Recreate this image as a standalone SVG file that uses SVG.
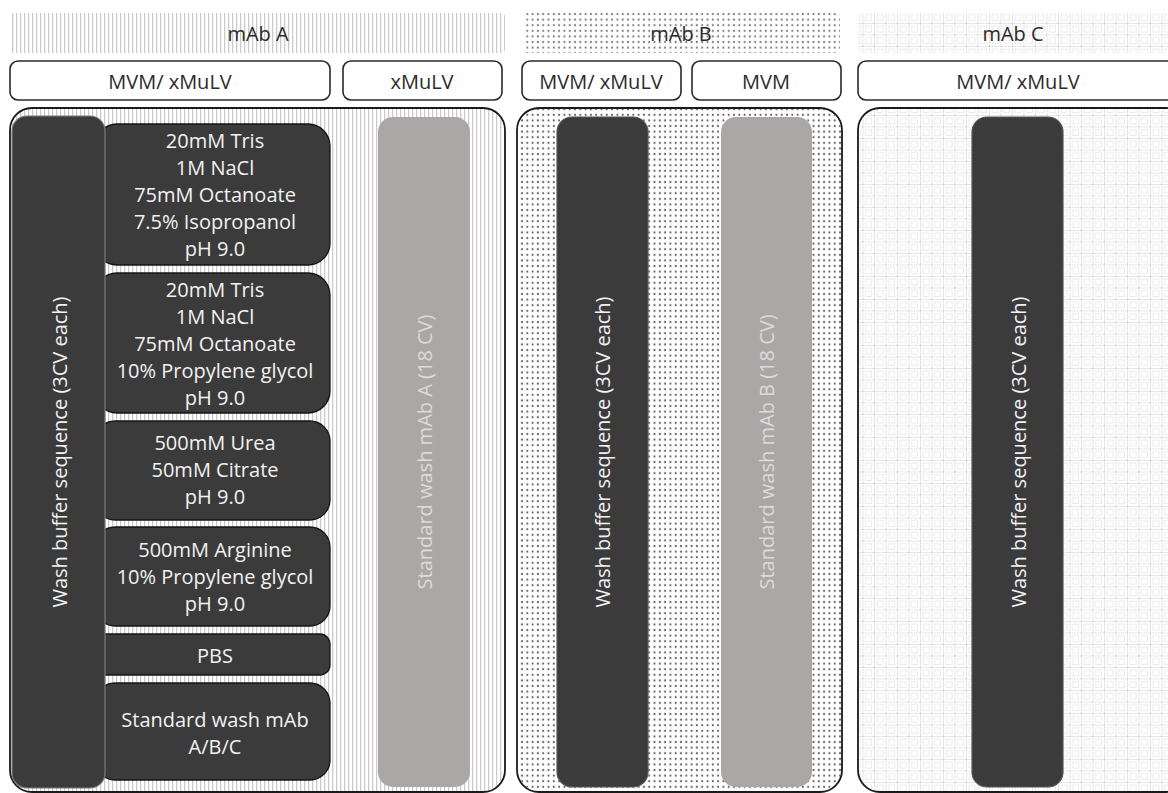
<svg xmlns="http://www.w3.org/2000/svg" width="1168" height="793" viewBox="0 0 1168 793">
<defs>
<pattern id="stripes" width="4" height="4" patternUnits="userSpaceOnUse">
<rect x="0" y="0" width="1.3" height="4" fill="#cbcbcb"/>
</pattern>
<pattern id="dots" width="5.3" height="5.6" patternUnits="userSpaceOnUse">
<circle cx="2.6" cy="2.8" r="1.1" fill="#5a5a5a"/>
</pattern>
<pattern id="grid" width="11.5" height="11.5" patternUnits="userSpaceOnUse">
<path d="M0.5 0 V11.5 M0 0.5 H11.5" stroke="#d6d6d6" stroke-width="1" stroke-dasharray="1.5 1" fill="none"/>
<rect x="3" y="3" width="6" height="6" fill="none" stroke="#e6e6e6" stroke-width="0.8"/>
</pattern>
<clipPath id="page"><rect x="0" y="0" width="1168" height="793"/></clipPath>
</defs>
<style>
text{font-family:"Open Sans","Noto Sans","Liberation Sans",sans-serif;font-size:20px;text-anchor:middle}
.sub{fill:#ffffff;stroke:#2a2a2a;stroke-width:1.6}
.cont{stroke:#1a1a1a;stroke-width:1.8}
.dark{fill:#3b3b3b;stroke:#141414;stroke-width:1.3}
.wash{fill:#3b3b3b;stroke:#7a7a7a;stroke-width:1.2}
.grey{fill:#aca7a7}
.wt{fill:#f2f2f2}
.lt{fill:#dedada}
.bt{fill:#2b2b2b}
</style>
<rect width="1168" height="793" fill="#ffffff"/>
<g clip-path="url(#page)">
<g id="header-mabA"><rect x="10" y="13" width="495" height="40" rx="4" fill="url(#stripes)"/><text class="bt" x="258" y="41">mAb A</text></g>
<g id="header-mabB"><rect x="523" y="13" width="317" height="40" rx="4" fill="url(#dots)" opacity="0.75"/><text class="bt" x="681" y="41">mAb B</text></g>
<g id="header-mabC"><rect x="858" y="13" width="320" height="40" rx="4" fill="url(#grid)"/><text class="bt" x="1013" y="41">mAb C</text></g>

<g id="sub-A1"><rect class="sub" x="10" y="61" width="320" height="39" rx="8"/><text class="bt" x="170" y="89">MVM/ xMuLV</text></g>
<g id="sub-A2"><rect class="sub" x="343" y="61" width="159" height="39" rx="8"/><text class="bt" x="422" y="89">xMuLV</text></g>
<g id="sub-B1"><rect class="sub" x="522" y="61" width="159" height="39" rx="8"/><text class="bt" x="601" y="89">MVM/ xMuLV</text></g>
<g id="sub-B2"><rect class="sub" x="692" y="61" width="149" height="39" rx="8"/><text class="bt" x="766" y="89">MVM</text></g>
<g id="sub-C1"><rect class="sub" x="858" y="61" width="330" height="39" rx="8"/><text class="bt" x="1018" y="89">MVM/ xMuLV</text></g>

<g id="container-A"><rect x="11" y="109" width="493" height="682" rx="21" fill="url(#stripes)"/><rect class="cont" x="10" y="108" width="495" height="684" rx="22" fill="none"/></g>
<g id="container-B"><rect x="518" y="109" width="323" height="682" rx="21" fill="url(#dots)" opacity="0.9"/><rect class="cont" x="517" y="108" width="325" height="684" rx="22" fill="none"/></g>
<g id="container-C"><rect x="859" y="109" width="328" height="682" rx="21" fill="url(#grid)"/><rect class="cont" x="858" y="108" width="330" height="684" rx="22" fill="none"/></g>

<g id="buffer-1"><rect class="dark" x="95" y="124" width="235" height="141" rx="22"/>
<text class="wt" x="215" y="148">20mM Tris</text><text class="wt" x="215" y="175">1M NaCl</text><text class="wt" x="215" y="202">75mM Octanoate</text><text class="wt" x="215" y="229">7.5% Isopropanol</text><text class="wt" x="215" y="256">pH 9.0</text></g>
<g id="buffer-2"><rect class="dark" x="95" y="273" width="235" height="140" rx="22"/>
<text class="wt" x="215" y="297">20mM Tris</text><text class="wt" x="215" y="324">1M NaCl</text><text class="wt" x="215" y="351">75mM Octanoate</text><text class="wt" x="215" y="378">10% Propylene glycol</text><text class="wt" x="215" y="405">pH 9.0</text></g>
<g id="buffer-3"><rect class="dark" x="95" y="421" width="235" height="99" rx="20"/>
<text class="wt" x="215" y="450">500mM Urea</text><text class="wt" x="215" y="477">50mM Citrate</text><text class="wt" x="215" y="504">pH 9.0</text></g>
<g id="buffer-4"><rect class="dark" x="95" y="527" width="235" height="99" rx="20"/>
<text class="wt" x="215" y="557">500mM Arginine</text><text class="wt" x="215" y="584">10% Propylene glycol</text><text class="wt" x="215" y="611">pH 9.0</text></g>
<g id="buffer-pbs"><rect class="dark" x="95" y="634" width="235" height="41" rx="10"/>
<text class="wt" x="215" y="663">PBS</text></g>
<g id="buffer-standard"><rect class="dark" x="95" y="683" width="235" height="97" rx="20"/>
<text class="wt" x="215" y="727">Standard wash mAb</text><text class="wt" x="215" y="754">A/B/C</text></g>

<g id="wash-seq-A"><rect class="wash" x="12" y="116" width="93" height="672" rx="15"/>
<text class="wt" transform="translate(59,452) rotate(-90)" dominant-baseline="central">Wash buffer sequence (3CV each)</text></g>
<g id="std-wash-A"><rect class="grey" x="378" y="117" width="92" height="670" rx="15"/>
<text class="lt" transform="translate(424,452) rotate(-90)" dominant-baseline="central">Standard wash mAb A (18 CV)</text></g>
<g id="wash-seq-B"><rect class="wash" x="557" y="117" width="91" height="670" rx="15" style="stroke:#555"/>
<text class="wt" transform="translate(602,452) rotate(-90)" dominant-baseline="central">Wash buffer sequence (3CV each)</text></g>
<g id="std-wash-B"><rect class="grey" x="721" y="117" width="91" height="670" rx="15"/>
<text class="lt" transform="translate(766,452) rotate(-90)" dominant-baseline="central">Standard wash mAb B (18 CV)</text></g>
<g id="wash-seq-C"><rect class="wash" x="972" y="117" width="91" height="670" rx="15" style="stroke:#555"/>
<text class="wt" transform="translate(1018,452) rotate(-90)" dominant-baseline="central">Wash buffer sequence (3CV each)</text></g>
<g id="connectors"/>
</g>
</svg>
